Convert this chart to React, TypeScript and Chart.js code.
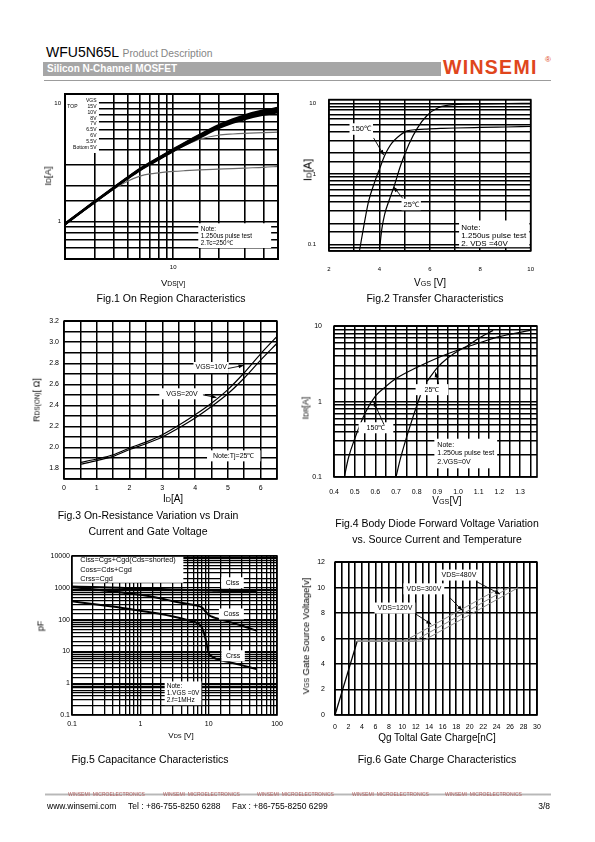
import React, { useEffect, useRef } from "react";
import { Chart, registerables } from "chart.js";

Chart.register(...registerables);

const FONT = '"Liberation Sans", Arial, Helvetica, sans-serif';

// ---------------- Fig.1 On Region Characteristics ----------------
const fig1Vds = [1.9, 2.5, 3, 4, 5, 6, 7, 8, 10, 12, 15, 20, 25, 30, 40, 50];
const fig1Id15V = [0.965, 1.25, 1.485, 1.94, 2.38, 2.79, 3.14, 3.46, 4.08, 4.64, 5.4, 6.5, 7.29, 7.9, 8.67, 9.1];
const fig1Id10V = [0.96, 1.245, 1.478, 1.93, 2.365, 2.77, 3.115, 3.43, 4.04, 4.58, 5.32, 6.4, 7.16, 7.75, 8.48, 8.92];
const fig1Id8V = [0.955, 1.24, 1.47, 1.92, 2.35, 2.75, 3.09, 3.4, 4.0, 4.53, 5.25, 6.3, 7.04, 7.6, 8.3, 8.72];
const fig1Id7V = [0.95, 1.235, 1.462, 1.91, 2.335, 2.73, 3.065, 3.37, 3.96, 4.48, 5.18, 6.2, 6.92, 7.45, 8.12, 8.52];
const fig1Id65V = [0.945, 1.23, 1.455, 1.9, 2.32, 2.71, 3.04, 3.34, 3.92, 4.43, 5.1, 6.1, 6.8, 7.3, 7.94, 8.32];
const fig1Id6V = [0.945, 1.23, 1.455, 1.9, 2.32, 2.71, 3.04, 3.34, 3.9, 4.38, 4.95, 5.35, 5.48, 5.55, 5.62, 5.68];
const fig1Id55V = [0.94, 1.225, 1.45, 1.88, 2.2, 2.42, 2.53, 2.58, 2.65, 2.69, 2.73, 2.77, 2.8, 2.83, 2.87, 2.92];
const fig1Legend = ["VGS", "15V", "10V", "8V", "7V", "6.5V", "6V", "5.5V", "Bottom 5V"];
const fig1Note = ["Note:", "1.250us pulse test", "2.Tc=250\u2103"];

// ---------------- Fig.2 Transfer Characteristics ----------------
const fig2Vgs150 = [3.21, 3.4, 3.57, 3.8, 4.02, 4.2, 4.34, 4.5, 4.72, 5.1, 5.5, 5.88, 6.5, 7, 8, 9, 10];
const fig2Id150 = [0.082, 0.2, 0.41, 0.75, 1.22, 1.8, 2.26, 2.75, 3.31, 4.07, 4.25, 4.33, 4.42, 4.48, 4.56, 4.63, 4.7];
const fig2Vgs25 = [4.02, 4.1, 4.21, 4.4, 4.57, 4.85, 5.17, 5.5, 5.88, 6.33, 6.97, 8, 9, 10];
const fig2Id25 = [0.098, 0.17, 0.27, 0.44, 0.65, 1.35, 2.64, 4.43, 6.68, 8.65, 9.6, 9.85, 9.95, 10.0];
const fig2Note = ["Note:", "1.250us pulse test", "2. VDS =40V"];

// ---------------- Fig.3 On-Resistance ----------------
const fig3Id = [0.5, 1, 1.5, 2, 2.5, 3, 3.5, 4, 4.5, 5, 5.5, 6, 6.5];
const fig3Rds10V = [1.858, 1.89, 1.93, 1.995, 2.05, 2.12, 2.21, 2.31, 2.42, 2.55, 2.71, 2.89, 3.055];
const fig3Rds20V = [1.84, 1.875, 1.915, 1.98, 2.035, 2.1, 2.185, 2.28, 2.39, 2.51, 2.66, 2.83, 2.99];

// ---------------- Fig.4 Body Diode ----------------
const fig4Vsd150 = [0.45, 0.47, 0.5, 0.55, 0.6, 0.65, 0.7, 0.8, 0.9, 1.0, 1.1, 1.2, 1.35];
const fig4Idr150 = [0.1, 0.18, 0.32, 0.7, 1.18, 1.58, 2.02, 2.83, 3.79, 4.83, 5.98, 7.26, 8.79];
const fig4Vsd25a = [0.7, 0.72, 0.75, 0.78, 0.81, 0.83];
const fig4Idr25a = [0.1, 0.17, 0.33, 0.6, 1.05, 1.5];
const fig4Vsd25b = [0.85, 0.9, 0.95, 1.0, 1.05, 1.1, 1.17];
const fig4Idr25b = [1.85, 2.83, 3.79, 4.7, 5.6, 6.9, 8.8];
const fig4Note = ["Note:", "1.250us pulse test", "2.VGS=0V"];

// ---------------- Fig.5 Capacitance ----------------
const fig5Vds = [0.1, 0.2, 0.5, 1, 2, 3, 5, 7, 8, 9, 10, 11, 13, 20, 30, 50];
const fig5Ciss = [1100, 1060, 1000, 950, 910, 890, 860, 850, 840, 830, 820, 815, 805, 790, 775, 750];
const fig5Coss = [1050, 900, 720, 600, 460, 380, 310, 270, 240, 180, 140, 125, 110, 85, 65, 45];
const fig5Crss = [378, 310, 240, 190, 150, 125, 95, 75, 55, 25, 9, 7, 5.8, 4.6, 3.7, 2.8];
const fig5Legend = ["Ciss=Cgs+Cgd(Cds=shorted)", "Coss=Cds+Cgd", "Crss=Cgd"];
const fig5Note = ["Note:", "1.VGS =0V", "2.f=1MHz"];

// ---------------- Fig.6 Gate Charge ----------------
const fig6QgRamp = [0, 3.3];
const fig6VgsRamp = [0, 5.8];
const fig6Qg120 = [3.3, 10.3, 24.6];
const fig6Qg300 = [3.3, 11.7, 25.9];
const fig6Qg480 = [3.3, 13.0, 27.2];
const fig6Vgs = [5.8, 5.8, 10];

// ---------------- layout constants ----------------
const YW = 36, XH = 26, PT = 8, PR = 12;

type Note = { x: number; y: number; lines: string[]; align?: CanvasTextAlign; size?: number; lh?: number; padX?: number; padY?: number; bg?: boolean; rect?: number[] };

const notesPlugin = {
  id: "notes",
  afterDatasetsDraw(chart: any, _a: any, opts: any) {
    const ctx: CanvasRenderingContext2D = chart.ctx;
    const xs = chart.scales.x, ys = chart.scales.y;
    const area = chart.chartArea;
    ctx.save();
    (opts.items || []).forEach((n: Note) => {
      const size = n.size ?? 7, lh = n.lh ?? size * 1.2;
      ctx.font = `${size}px ${FONT}`;
      const px = xs.getPixelForValue(n.x), py = ys.getPixelForValue(n.y);
      const align = n.align ?? "left";
      if (n.rect) {
        const l = xs.getPixelForValue(n.rect[0]), t = ys.getPixelForValue(n.rect[1]);
        const r = xs.getPixelForValue(n.rect[2]), b = ys.getPixelForValue(n.rect[3]);
        ctx.fillStyle = "#fff";
        ctx.fillRect(l, t, r - l, b - t);
      } else if (n.bg) {
        const w = Math.max(...n.lines.map((s) => ctx.measureText(s).width));
        const x0 = align === "left" ? px : align === "right" ? px - w : px - w / 2;
        const padX = n.padX ?? 3, padY = n.padY ?? 2;
        ctx.fillStyle = "#fff";
        ctx.fillRect(x0 - padX, py - size / 2 - padY, w + 2 * padX, (n.lines.length - 1) * lh + size + 2 * padY);
      }
      ctx.fillStyle = "#000";
      ctx.textAlign = align;
      ctx.textBaseline = "middle";
      n.lines.forEach((s, i) => ctx.fillText(s, px, py + i * lh));
    });
    (opts.arrows || []).forEach((a: number[]) => {
      const x1 = xs.getPixelForValue(a[0]), y1 = ys.getPixelForValue(a[1]);
      const x2 = xs.getPixelForValue(a[2]), y2 = ys.getPixelForValue(a[3]);
      const ang = Math.atan2(y2 - y1, x2 - x1);
      ctx.strokeStyle = "#000";
      ctx.lineWidth = 0.9;
      ctx.beginPath();
      ctx.moveTo(x1, y1);
      ctx.lineTo(x2, y2);
      ctx.stroke();
      ctx.fillStyle = "#000";
      ctx.beginPath();
      ctx.moveTo(x2, y2);
      ctx.lineTo(x2 - 5 * Math.cos(ang) + 2 * Math.sin(ang), y2 - 5 * Math.sin(ang) - 2 * Math.cos(ang));
      ctx.lineTo(x2 - 5 * Math.cos(ang) - 2 * Math.sin(ang), y2 - 5 * Math.sin(ang) + 2 * Math.cos(ang));
      ctx.closePath();
      ctx.fill();
    });
    if (opts.frame) {
      ctx.strokeStyle = "#000";
      ctx.lineWidth = opts.frame;
      ctx.strokeRect(area.left, area.top, area.right - area.left, area.bottom - area.top);
    }
    ctx.restore();
  },
};
Chart.register(notesPlugin);

const pts = (xs: number[], ys: number[]) => xs.map((x, i) => ({ x, y: ys[i] }));
const line = (xs: number[], ys: number[], color: string, width: number, smooth = true) => ({
  data: pts(xs, ys),
  borderColor: color,
  borderWidth: width,
  pointRadius: 0,
  fill: false,
  cubicInterpolationMode: smooth ? "monotone" : "default",
  tension: 0,
});

const decade = (v: number) => {
  const l = Math.log10(v);
  if (Math.abs(l - Math.round(l)) > 1e-6) return "";
  return v >= 1 ? String(Math.round(v)) : String(parseFloat(v.toPrecision(2)));
};

function axis(horizontal: boolean, type: string, min: number, max: number, step: number | undefined, label: (v: number) => string, fontSize: number, pad: number, gridW: number, includeBounds = true) {
  return {
    type,
    min,
    max,
    grid: { color: "#000", lineWidth: gridW, drawTicks: false },
    border: { display: false },
    ticks: {
      stepSize: step,
      autoSkip: false,
      maxRotation: 0,
      minRotation: 0,
      padding: pad,
      includeBounds,
      color: "#000",
      font: { size: fontSize, family: FONT },
      callback: (v: any) => label(Number(v)),
    },
    afterFit: (s: any) => {
      if (horizontal) s.height = XH;
      else s.width = YW;
    },
  };
}

function config(datasets: any[], x: any, y: any, notes: any) {
  return {
    type: "line",
    data: { datasets },
    options: {
      responsive: false,
      animation: false,
      events: [],
      layout: { padding: { top: PT, right: PR, left: 0, bottom: 0 } },
      plugins: { legend: { display: false }, tooltip: { enabled: false }, notes },
      scales: { x, y },
    },
  };
}

const fig1 = () =>
  config(
    [
      line(fig1Vds, fig1Id15V, "#000", 2),
      line(fig1Vds, fig1Id10V, "#000", 2),
      line(fig1Vds, fig1Id8V, "#000", 2),
      line(fig1Vds, fig1Id7V, "#000", 2),
      line(fig1Vds, fig1Id65V, "#000", 2),
      line(fig1Vds, fig1Id6V, "#6a6a6a", 1.2),
      line(fig1Vds, fig1Id55V, "#6a6a6a", 1.2),
    ],
    axis(true, "logarithmic", 1.9, 50, undefined, decade, 6, 5, 1.6),
    axis(false, "logarithmic", 0.485, 11.9, undefined, decade, 6, 4, 1.6),
    {
      frame: 2,
      items: [
        { x: 3.08, y: 10.45, lines: fig1Legend, align: "right", size: 5, lh: 5.83, rect: [1.9, 11.9, 3.2, 3.79] },
        { x: 1.97, y: 9.25, lines: ["TOP"], align: "left", size: 5 },
        { x: 15.3, y: 0.863, lines: fig1Note, size: 6.3, lh: 7, rect: [14.7, 0.97, 45, 0.6] },
      ],
    }
  );

const fig2 = () =>
  config(
    [line(fig2Vgs150, fig2Id150, "#000", 1.2), line(fig2Vgs25, fig2Id25, "#000", 1.2)],
    axis(true, "linear", 2, 10, 1, (v) => (Math.round(v) % 2 === 0 ? String(Math.round(v)) : ""), 6, 15, 1.5),
    axis(false, "logarithmic", 0.0813, 11.3, undefined, decade, 6, 13, 1.5),
    {
      frame: 1.6,
      items: [
        { x: 7.25, y: 0.174, lines: fig2Note, size: 8, lh: 8.3, rect: [7.16, 0.22, 9.95, 0.092] },
        { x: 3.28, y: 4.33, lines: ["150\u2103"], align: "center", size: 7.5, bg: true, padX: 2 },
        { x: 5.26, y: 0.37, lines: ["25\u2103"], align: "center", size: 7.5, bg: true, padX: 2 },
      ],
      arrows: [
        [3.77, 3.24, 4.17, 1.85],
        [4.92, 0.455, 4.57, 0.654],
      ],
    }
  );

const fig3 = () =>
  config(
    [line(fig3Id, fig3Rds10V, "#000", 1.2), line(fig3Id, fig3Rds20V, "#000", 1.2)],
    axis(true, "linear", 0, 6.5, 0.5, (v) => (Math.abs(v - Math.round(v)) < 1e-6 ? String(Math.round(v)) : ""), 7, 5, 1.5),
    axis(false, "linear", 1.7, 3.2, 0.1, (v) => (Math.round(v * 10) % 2 === 0 && v > 1.75 ? v.toFixed(1) : ""), 7, 5, 1.5),
    {
      frame: 1.6,
      items: [
        { x: 4.49, y: 2.76, lines: ["VGS=10V"], align: "center", size: 7, bg: true, padX: 2 },
        { x: 3.6, y: 2.51, lines: ["VGS=20V"], align: "center", size: 7, bg: true, padX: 7 },
        { x: 5.18, y: 1.92, lines: ["Note:Tj=25\u2103"], align: "center", size: 7, bg: true, padX: 6 },
      ],
      arrows: [
        [5.0, 2.75, 5.48, 2.78],
        [4.24, 2.5, 4.65, 2.475],
      ],
    }
  );

const fig4 = () =>
  config(
    [
      line(fig4Vsd150, fig4Idr150, "#000", 1.2),
      line(fig4Vsd25a, fig4Idr25a, "#000", 1.2),
      line(fig4Vsd25b, fig4Idr25b, "#000", 1.2),
    ],
    axis(true, "linear", 0.4, 1.382, 0.05, (v) => (Math.round(v * 100) % 10 === 0 ? v.toFixed(1) : ""), 7, 11, 1.5, false),
    axis(false, "logarithmic", 0.1, 10, undefined, decade, 7, 12, 1.5),
    {
      frame: 1.6,
      items: [
        { x: 0.9, y: 0.264, lines: fig4Note, size: 7, lh: 8.3, bg: true, padX: 3, padY: 3 },
        { x: 0.874, y: 1.44, lines: ["25\u2103"], align: "center", size: 7, bg: true, padX: 9 },
        { x: 0.603, y: 0.45, lines: ["150\u2103"], align: "center", size: 7, bg: true, padX: 8 },
      ],
      arrows: [
        [0.906, 1.71, 0.89, 2.45],
        [0.642, 0.494, 0.592, 1.0],
      ],
    }
  );

const fig5 = () =>
  config(
    [line(fig5Vds, fig5Ciss, "#000", 2), line(fig5Vds, fig5Coss, "#000", 2), line(fig5Vds, fig5Crss, "#000", 2)],
    axis(true, "logarithmic", 0.1, 100, undefined, decade, 7, 5, 1.3),
    axis(false, "logarithmic", 0.1, 10000, undefined, decade, 7, 2, 1.3),
    {
      frame: 1.6,
      items: [
        { x: 0.132, y: 7400, lines: fig5Legend, size: 7.3, lh: 9.4, rect: [0.1, 10000, 4.26, 1440] },
        { x: 22.3, y: 1440, lines: ["Ciss"], align: "center", size: 7, bg: true, padX: 4.5 },
        { x: 21.5, y: 150, lines: ["Coss"], align: "center", size: 7, bg: true, padX: 4.5 },
        { x: 22.8, y: 7.3, lines: ["Crss"], align: "center", size: 7, bg: true, padX: 4.5 },
        { x: 2.43, y: 0.776, lines: fig5Note, size: 6.5, lh: 6.6, bg: true, padX: 2, padY: 2 },
      ],
    }
  );

const fig6 = () =>
  config(
    [
      line(fig6Qg120, fig6Vgs, "#8a8a8a", 1, false),
      line(fig6Qg300, fig6Vgs, "#8a8a8a", 1, false),
      line(fig6Qg480, fig6Vgs, "#8a8a8a", 1, false),
      line(fig6QgRamp, fig6VgsRamp, "#000", 1.3, false),
    ],
    axis(true, "linear", 0, 30, 1, (v) => (Math.round(v) % 2 === 0 ? String(Math.round(v)) : ""), 7, 8, 1.6),
    axis(false, "linear", 0, 12, 2, (v) => String(Math.round(v)), 7, 10, 1.5),
    {
      frame: 1.6,
      items: [
        { x: 18.4, y: 10.99, lines: ["VDS=480V"], align: "center", size: 7, bg: true, padX: 3 },
        { x: 13.2, y: 9.91, lines: ["VDS=300V"], align: "center", size: 7, bg: true, padX: 3 },
        { x: 8.9, y: 8.4, lines: ["VDS=120V"], align: "center", size: 7, bg: true, padX: 3 },
      ],
      arrows: [
        [21.0, 10.48, 24.5, 9.5],
        [17.05, 9.22, 18.9, 8.21],
        [11.9, 7.96, 14.3, 7.13],
      ],
    }
  );

function ChartBox({ rect, make }: { rect: number[]; make: () => any }) {
  const ref = useRef<HTMLCanvasElement>(null);
  const [L, T, R, B] = rect;
  const w = R - L + YW + PR;
  const h = B - T + PT + XH;
  useEffect(() => {
    const chart = new Chart(ref.current as HTMLCanvasElement, make());
    return () => chart.destroy();
  }, []);
  return <canvas ref={ref} width={w} height={h} style={{ position: "absolute", left: L - YW, top: T - PT, width: w, height: h }} />;
}

function Txt({ x, y, s, children, rot, a = "c", color = "#000", bold, style }: any) {
  const tx = a === "c" ? "-50%" : a === "r" ? "-100%" : "0";
  return (
    <div
      style={{
        position: "absolute",
        left: x,
        top: y,
        fontSize: s,
        color,
        fontWeight: bold ? "bold" : "normal",
        whiteSpace: "nowrap",
        lineHeight: 1,
        transform: `translate(${tx}, -50%)${rot ? ` rotate(${rot}deg)` : ""}`,
        ...style,
      }}
    >
      {children}
    </div>
  );
}

const sm = (t: string) => <span style={{ fontSize: "0.72em" }}>{t}</span>;

export default function App() {
  return (
    <div style={{ position: "absolute", left: 0, top: 0, width: 595, height: 842, fontFamily: FONT, background: "#fff" }}>
      {/* header */}
      <Txt x={46} y={52} s={14} a="l">
        WFU5N65L <span style={{ fontSize: 10.3, color: "#858585" }}>Product Description</span>
      </Txt>
      <div style={{ position: "absolute", left: 43, top: 61.5, width: 398, height: 14, background: "#a6a6a6" }} />
      <Txt x={47} y={68.7} s={10} a="l" bold color="#fff">Silicon N-Channel MOSFET</Txt>
      <div style={{ position: "absolute", left: 44, top: 79.5, width: 507, height: 1.5, background: "#9c9c9c" }} />
      <Txt x={443} y={68} s={19.5} a="l" bold color="#e0461c" style={{ letterSpacing: 1.3 }}>WINSEMI</Txt>
      <Txt x={548} y={60} s={8} color="#e0461c">®</Txt>

      {/* Fig 1 */}
      <ChartBox rect={[65, 94, 278, 259]} make={fig1} />
      <Txt x={48} y={176} s={9.5} rot={-90}>I{sm("D")}[A]</Txt>
      <Txt x={173} y={283} s={9.5}>V{sm("DS[V]")}</Txt>
      <Txt x={171} y={298} s={10.5}>Fig.1 On Region Characteristics</Txt>

      {/* Fig 2 */}
      <ChartBox rect={[329, 91, 537, 251]} make={fig2} />
      <Txt x={308} y={170} s={11} rot={-90}>I{sm("D")}[A]</Txt>
      <Txt x={430} y={283} s={10}>V{sm("GS")} [V]</Txt>
      <Txt x={435} y={298} s={10.5}>Fig.2 Transfer Characteristics</Txt>

      {/* Fig 3 */}
      <ChartBox rect={[64, 320, 277, 479]} make={fig3} />
      <Txt x={37} y={400} s={9} rot={-90}>R{sm("DS(ON)")}[ Ω]</Txt>
      <Txt x={173} y={499} s={10}>I{sm("D")}[A]</Txt>
      <Txt x={148} y={515} s={10.5}>Fig.3 On-Resistance Variation vs Drain</Txt>
      <Txt x={148} y={531} s={10.5}>Current and Gate Voltage</Txt>

      {/* Fig 4 */}
      <ChartBox rect={[334, 318, 537, 477]} make={fig4} />
      <Txt x={306} y={408} s={9} rot={-90}>I{sm("DR")}[A]</Txt>
      <Txt x={447} y={501} s={10}>V{sm("GS")}[V]</Txt>
      <Txt x={437} y={523} s={10.5}>Fig.4 Body Diode Forward Voltage Variation</Txt>
      <Txt x={437} y={539} s={10.5}>vs. Source Current and Temperature</Txt>

      {/* Fig 5 */}
      <ChartBox rect={[72, 556, 277, 715]} make={fig5} />
      <Txt x={41} y={626} s={9} rot={-90}>pF</Txt>
      <Txt x={181} y={736} s={8}>V{sm("DS")} [V]</Txt>
      <Txt x={150} y={759} s={10.5}>Fig.5 Capacitance Characteristics</Txt>

      {/* Fig 6 */}
      <ChartBox rect={[335, 556, 537, 715]} make={fig6} />
      <Txt x={306} y={636} s={9.5} rot={-90}>V{sm("GS")} Gate Source Voltage[v]</Txt>
      <Txt x={437} y={738} s={10}>Qg Toltal Gate Charge[nC]</Txt>
      <Txt x={437} y={759} s={10.5}>Fig.6 Gate Charge Characteristics</Txt>

      {/* footer */}
      <div style={{ position: "absolute", left: 45, top: 792.5, width: 506, height: 3, background: "linear-gradient(#f0f0f0, #b8b8b8, #f0f0f0)" }} />
      {[68, 163, 257, 352, 445].map((x) => (
        <Txt key={x} x={x} y={794} s={5} a="l" color="#b06060">WINSEMI&nbsp;&nbsp;MICROELECTRONICS</Txt>
      ))}
      <Txt x={47} y={806} s={8.5} a="l">www.winsemi.com</Txt>
      <Txt x={128} y={806} s={8.5} a="l">Tel : +86-755-8250 6288</Txt>
      <Txt x={232} y={806} s={8.5} a="l">Fax : +86-755-8250 6299</Txt>
      <Txt x={550} y={806} s={8.5} a="r">3/8</Txt>
    </div>
  );
}
